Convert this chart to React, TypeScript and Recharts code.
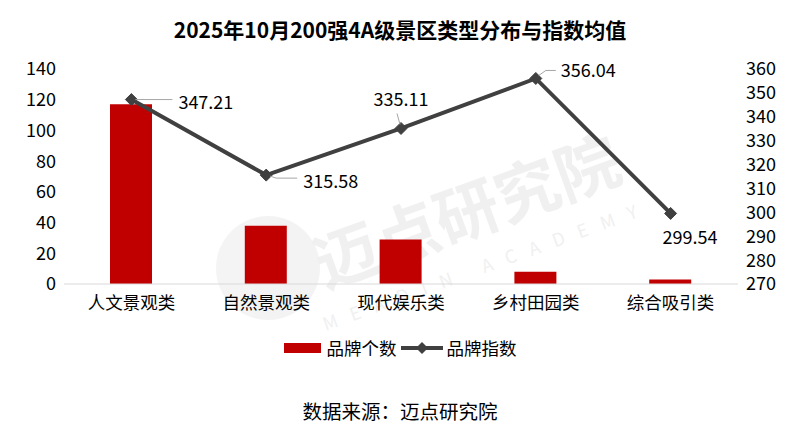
import React from 'react';
import { ComposedChart, Bar, Line, XAxis, YAxis, Customized } from 'recharts';

const categories = ['人文景观类', '自然景观类', '现代娱乐类', '乡村田园类', '综合吸引类'];
const brandCounts = [117, 38, 29, 8, 3];
const brandIndex = [347.21, 315.58, 335.11, 356.04, 299.54];
const leftTicks = [0, 20, 40, 60, 80, 100, 120, 140];
const rightTicks = [270, 280, 290, 300, 310, 320, 330, 340, 350, 360];

const data = categories.map((c, i) => ({ name: c, count: brandCounts[i], index: brandIndex[i] }));

const FONT = '"Noto Sans CJK SC", "Microsoft YaHei", sans-serif';
const RED = '#c00000';
const LINE = '#404040';

const labelCfg = [
  { dx: 47, dy: 1, anchor: 'start', lead: [[4, 0], [41, 0]] },
  { dx: 37, dy: 5, anchor: 'start', lead: [[4, 1], [10, 3], [31, 3]] },
  { dx: 0, dy: -30, anchor: 'middle', lead: [[-1, -4], [-4, -15]] },
  { dx: 25, dy: -9, anchor: 'start', lead: [[3, -3], [10, -8], [20, -8]] },
  { dx: -8, dy: 23, anchor: 'start', lead: [] },
];

const IndexLabel = (props: any) => {
  const { x, y, index, value } = props;
  const cfg = labelCfg[index];
  if (!cfg) return null;
  const pts = cfg.lead.map((p: number[]) => `${x + p[0]},${y + p[1]}`).join(' ');
  return (
    <g>
      {cfg.lead.length > 0 && <polyline points={pts} fill="none" stroke="#a6a6a6" strokeWidth={1} />}
      <text x={x + cfg.dx} y={y + cfg.dy} textAnchor={cfg.anchor} dominantBaseline="central"
        fontSize={18} fontFamily={FONT} fill="#000">{Number(value).toFixed(2)}</text>
    </g>
  );
};

const Diamond = (props: any) => {
  const { cx, cy } = props;
  if (cx == null || cy == null) return null;
  const s = 6;
  return <polygon points={`${cx},${cy - s} ${cx + s},${cy} ${cx},${cy + s} ${cx - s},${cy}`} fill={LINE} stroke={LINE} />;
};

const Watermark = () => (
  <g opacity={0.45} pointerEvents="none">
    <circle cx={268} cy={268} r={52} fill="#e6e6e6" />
    <g transform="rotate(-20 470 220)">
      <text x={470} y={235} textAnchor="middle" fontSize={64} fontWeight="bold" fontFamily={FONT} fill="#e0e0e0">迈点研究院</text>
      <text x={470} y={275} textAnchor="middle" fontSize={18} letterSpacing={14} fontFamily={FONT} fill="#e0e0e0">MEADIN ACADEMY</text>
    </g>
  </g>
);

export default function App() {
  return (
    <div style={{ position: 'absolute', left: 0, top: 0, width: 800, height: 429, background: '#fff', fontFamily: FONT }}>
      <div style={{ position: 'absolute', top: 14, width: 800, textAlign: 'center', fontSize: 21, fontWeight: 'bold', color: '#000' }}>
        2025年10月200强4A级景区类型分布与指数均值
      </div>
      <ComposedChart width={800} height={429} data={data} margin={{ top: 69, right: 0, left: 0, bottom: 115 }}>
        <Customized component={Watermark} />
        <XAxis dataKey="name" height={30} tickLine={false} axisLine={{ stroke: '#d9d9d9' }} tickMargin={7}
          tick={{ fontSize: 17.5, fill: '#000', fontFamily: FONT }} interval={0} />
        <YAxis yAxisId="left" width={64} domain={[0, 140]} ticks={leftTicks} axisLine={false} tickLine={false} interval={0}
          tick={{ fontSize: 18, fill: '#000', fontFamily: FONT }} />
        <YAxis yAxisId="right" orientation="right" width={62} domain={[270, 360]} ticks={rightTicks} axisLine={false} tickLine={false} interval={0}
          tick={{ fontSize: 18, fill: '#000', fontFamily: FONT }} />
        <Bar yAxisId="left" dataKey="count" fill={RED} barSize={42} isAnimationActive={false} />
        <Line yAxisId="right" dataKey="index" stroke={LINE} strokeWidth={4} dot={<Diamond />} activeDot={false}
          isAnimationActive={false} label={<IndexLabel />} />
      </ComposedChart>
      <div style={{ position: 'absolute', top: 335, left: 0, width: 800, display: 'flex', justifyContent: 'center', alignItems: 'center', fontSize: 17.5, color: '#000' }}>
        <span style={{ display: 'inline-block', width: 37, height: 10, background: RED, marginRight: 6 }} />
        <span>品牌个数</span>
        <svg width={44} height={14} style={{ margin: '0 3px' }}>
          <line x1={1} y1={7} x2={43} y2={7} stroke={LINE} strokeWidth={4} />
          <polygon points="22,1 28,7 22,13 16,7" fill={LINE} />
        </svg>
        <span>品牌指数</span>
      </div>
      <div style={{ position: 'absolute', top: 396, width: 800, textAlign: 'center', fontSize: 19.5, color: '#000' }}>
        数据来源：迈点研究院
      </div>
    </div>
  );
}
